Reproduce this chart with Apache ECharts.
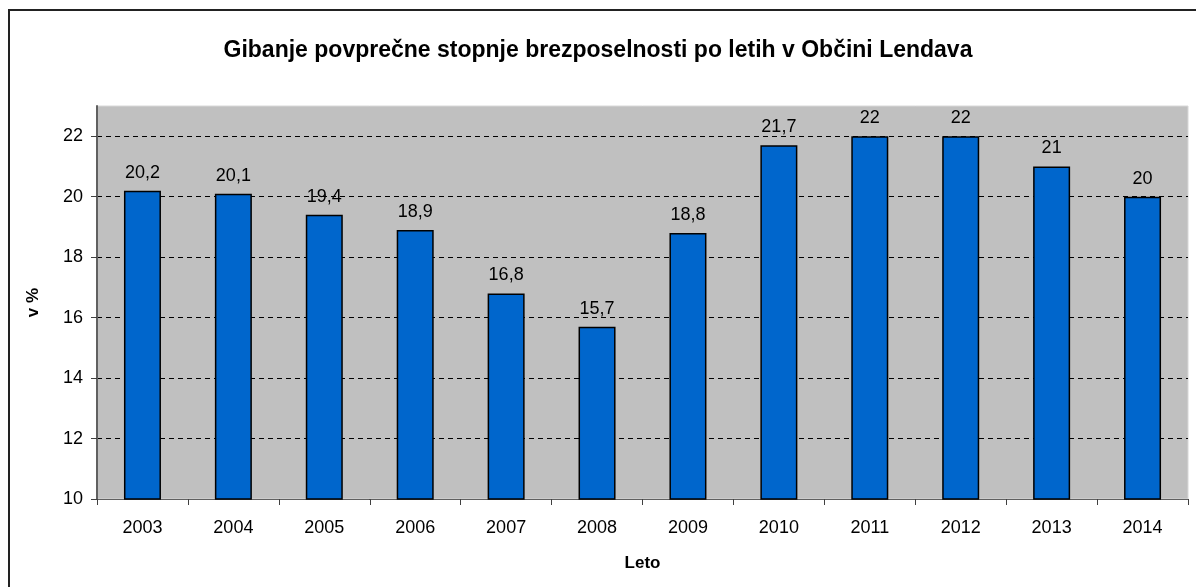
<!DOCTYPE html>
<html>
<head>
  <meta charset="utf-8">
  <title>Brezposelnost Lendava</title>
  <script src="https://cdn.jsdelivr.net/npm/echarts/dist/echarts.min.js"></script>
  <style>
    html, body { margin: 0; padding: 0; background: #fff; }
    #chart { width: 1196px; height: 587px; }
  </style>
</head>
<body>
  <div id="chart"></div>
  <script>
    // podatki
    var years = ['2003', '2004', '2005', '2006', '2007', '2008', '2009', '2010', '2011', '2012', '2013', '2014'];
    var rates = [20.2, 20.1, 19.4, 18.9, 16.8, 15.7, 18.8, 21.7, 22, 22, 21, 20];
    var yTicks = [10, 12, 14, 16, 18, 20, 22];

    var font = 'Liberation Sans, Arial, sans-serif';
    var myChart = echarts.init(document.getElementById('chart'));

    var option = {
      animation: false,
      textStyle: { fontFamily: font },
      title: {
        text: 'Gibanje povprečne stopnje brezposelnosti po letih v Občini Lendava',
        left: 'center',
        top: 34,
        textStyle: { fontFamily: font, fontSize: 23, fontWeight: 'bold', color: '#000' }
      },
      graphic: [
        {
          type: 'rect',
          shape: { x: 9, y: 10, width: 1200, height: 600 },
          style: { fill: null, stroke: '#222', lineWidth: 2 },
          z: -10
        }
      ],
      grid: {
        left: 97, right: 8, top: 106, bottom: 88,
        show: true,
        backgroundColor: '#C0C0C0',
        borderColor: '#d8d8d8',
        borderWidth: 1
      },
      xAxis: {
        type: 'category',
        data: years,
        name: 'Leto',
        nameLocation: 'middle',
        nameGap: 56,
        nameTextStyle: { fontFamily: font, fontSize: 17, fontWeight: 'bold', color: '#000' },
        axisLine: { lineStyle: { color: '#606060', width: 1 } },
        axisTick: { show: true, length: 6, alignWithLabel: false, lineStyle: { color: '#404040' } },
        axisLabel: { fontFamily: font, fontSize: 18, color: '#000', margin: 20 }
      },
      yAxis: {
        type: 'value',
        min: yTicks[0],
        max: 23,
        interval: 2,
        name: 'v %',
        nameLocation: 'middle',
        nameGap: 55,
        nameTextStyle: { fontFamily: font, fontSize: 17, fontWeight: 'bold', color: '#000' },
        axisLine: { show: true, lineStyle: { color: '#606060', width: 2 } },
        axisTick: { show: true, length: 6, customValues: yTicks, lineStyle: { color: '#404040' } },
        axisLabel: {
          fontFamily: font, fontSize: 18, color: '#000', margin: 14,
          customValues: yTicks
        },
        splitLine: { show: true, lineStyle: { color: '#000', type: [5, 4], width: 1 } }
      },
      series: [
        {
          type: 'bar',
          data: rates,
          barWidth: 37,
          itemStyle: { color: '#0066CC', borderColor: '#000', borderWidth: 1.5 },
          label: {
            show: true,
            position: 'top',
            distance: 9,
            fontFamily: font,
            fontSize: 18,
            color: '#000',
            formatter: function (p) { return String(p.value).replace('.', ','); }
          }
        }
      ]
    };

    myChart.setOption(option);
  </script>
</body>
</html>
